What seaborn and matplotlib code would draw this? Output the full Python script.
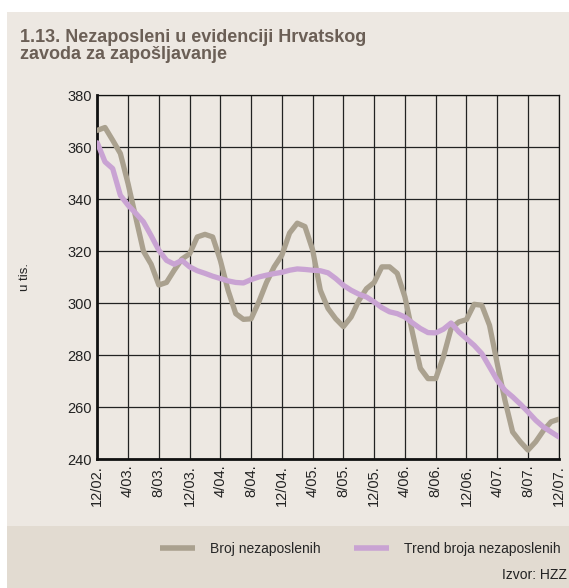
import numpy as np
import pandas as pd
import matplotlib
matplotlib.use('Agg')
import matplotlib.pyplot as plt
import seaborn as sns

# monthly data 12/2002 - 12/2007, thousands
broj = [366.5, 367.6, 362.7, 357.6, 346.0, 333.0, 320.0, 315.0, 307.0, 308.0,
        312.7, 317.0, 319.0, 325.5, 326.5, 325.5, 316.5, 305.0, 296.0, 293.8,
        294.0, 300.5, 308.0, 314.0, 318.5, 327.0, 330.8, 329.5, 320.5, 305.0,
        298.0, 294.0, 291.0, 294.7, 301.0, 305.6, 308.0, 314.0, 314.0, 311.5,
        302.4, 288.4, 275.0, 271.0, 271.0, 279.4, 290.3, 292.8, 293.7, 299.6,
        299.2, 291.5, 276.8, 262.7, 250.5, 246.7, 243.5, 246.7, 251.0, 254.4,
        255.4]
trend = [361.7, 354.4, 351.8, 341.5, 337.7, 334.6, 331.3, 326.0, 320.4, 316.5,
         315.0, 316.5, 314.0, 312.5, 311.5, 310.4, 309.5, 308.6, 308.0, 307.8,
         309.1, 310.1, 310.8, 311.4, 311.9, 312.7, 313.2, 313.0, 312.7, 312.5,
         311.7, 309.5, 306.9, 305.0, 303.5, 302.4, 300.5, 298.3, 296.7, 296.0,
         294.7, 292.4, 290.3, 288.7, 288.6, 290.0, 292.4, 289.0, 286.4, 283.8,
         280.6, 275.5, 270.4, 266.5, 264.0, 261.2, 258.2, 255.0, 252.4, 250.5,
         248.6]
tick_labels = ['12/02.', '4/03.', '8/03.', '12/03.', '4/04.', '8/04.', '12/04.', '4/05.',
               '8/05.', '12/05.', '4/06.', '8/06.', '12/06.', '4/07.', '8/07.', '12/07.']
y_ticks = [240, 260, 280, 300, 320, 340, 360, 380]

df = pd.DataFrame({'mjesec': np.arange(len(broj)), 'Broj nezaposlenih': broj,
                   'Trend broja nezaposlenih': trend})
long = df.melt(id_vars='mjesec', var_name='serija', value_name='vrijednost')

sns.set_style('white')
plt.rcParams['font.family'] = ['Liberation Sans', 'DejaVu Sans']

fig = plt.figure(figsize=(5.69, 5.88), dpi=100)
fig.patch.set_facecolor('white')
# background panels
fig.patches.append(plt.Rectangle((0.0123, 0.105), 1, 0.875, transform=fig.transFigure,
                                 facecolor='#ede8e2', edgecolor='none', zorder=-5))
fig.patches.append(plt.Rectangle((0.0123, 0.0), 1, 0.105, transform=fig.transFigure,
                                 facecolor='#e2dbd1', edgecolor='none', zorder=-5))

ax = fig.add_axes([0.171, 0.219, 0.811, 0.619])
ax.set_facecolor('#ede8e2')
palette = {'Broj nezaposlenih': '#aaa18f', 'Trend broja nezaposlenih': '#c9a3d3'}
sns.lineplot(data=long, x='mjesec', y='vrijednost', hue='serija', palette=palette,
             linewidth=3.8, ax=ax, legend=False, zorder=3)

ax.set_xlim(0, len(broj) - 1)
ax.set_ylim(240, 380)
ax.set_xticks(np.arange(0, len(broj), 4))
ax.set_xticklabels(tick_labels, rotation=90, fontsize=10.5, color='#222222')
ax.set_yticks(y_ticks)
ax.set_yticklabels([str(v) for v in y_ticks], fontsize=10.5, color='#222222')
ax.tick_params(length=0, pad=4)
ax.grid(True, color='#222222', linewidth=0.9)
ax.set_axisbelow(True)
for s in ax.spines.values():
    s.set_color('#111111')
    s.set_linewidth(0.9)
ax.spines['left'].set_linewidth(2)
ax.spines['bottom'].set_linewidth(2)
ax.set_xlabel('')
ax.set_ylabel('u tis.', fontsize=9.5, color='#222222', labelpad=26)

fig.text(0.035, 0.951, '1.13. Nezaposleni u evidenciji Hrvatskog\nzavoda za zapošljavanje',
         fontsize=13, fontweight='bold', color='#6b5f56', va='top', ha='left', linespacing=1.05)

# legend
handles = [plt.Line2D([], [], color=palette[k], linewidth=4, solid_capstyle='butt')
           for k in palette]
fig.legend(handles, list(palette.keys()), loc='center right', bbox_to_anchor=(1.008, 0.066),
           ncol=2, frameon=False, fontsize=10, handlelength=2.5, columnspacing=2.4,
           handletextpad=1.1)
fig.text(0.997, 0.01, 'Izvor: HZZ', fontsize=10, ha='right', va='bottom', color='#222222')

fig.savefig('out.png', dpi=100)
